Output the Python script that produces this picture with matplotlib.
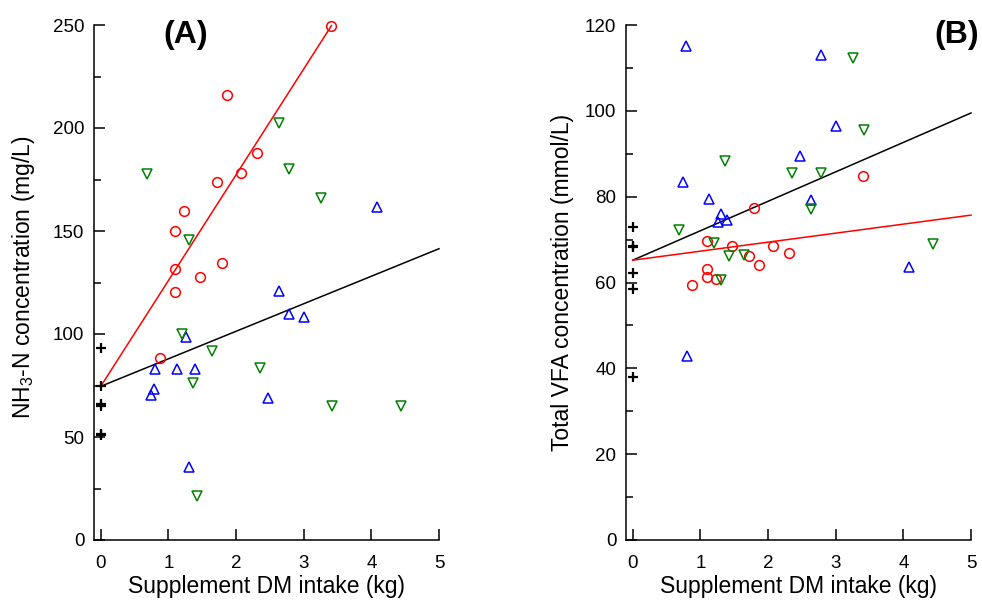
import matplotlib
matplotlib.use("Agg")
import matplotlib.pyplot as plt
from matplotlib.ticker import MultipleLocator

plt.rcParams['font.family'] = ['Liberation Sans', 'DejaVu Sans']
plt.rcParams['mathtext.fontset'] = 'custom'
plt.rcParams['mathtext.rm'] = 'Liberation Sans'

# supplement intake (kg) per group, shared by both panels
red_x = [0.88, 1.09, 1.09, 1.09, 1.23, 1.47, 1.72, 1.79, 1.87, 2.07, 2.31, 3.41]
blue_x = [0.74, 0.79, 0.80, 1.12, 1.26, 1.30, 1.40, 2.47, 2.63, 2.78, 3.00, 4.08]
green_x = [0.68, 1.20, 1.31, 1.37, 1.42, 1.64, 2.36, 2.63, 2.78, 3.26, 3.42, 4.44]

# panel A: NH3-N (mg/L)
red_nh3 = [88.3, 150.0, 131.7, 120.4, 159.7, 127.7, 173.8, 134.5, 215.9, 178.2, 187.9, 249.7]
blue_nh3 = [70.2, 73.5, 83.2, 83.2, 98.5, 35.3, 83.2, 69.1, 120.9, 109.7, 108.4, 161.5]
green_nh3 = [177.5, 100.2, 145.5, 76.4, 21.5, 91.9, 83.5, 202.6, 180.1, 166.2, 65.2, 65.2]
ctrl_nh3 = [93.1, 74.6, 66.0, 65.2, 51.5, 50.8]

# panel B: total VFA (mmol/L)
red_vfa = [59.4, 69.7, 63.1, 61.3, 60.9, 68.6, 66.1, 77.3, 64.1, 68.6, 66.9, 84.8]
blue_vfa = [83.5, 115.1, 42.9, 79.5, 74.2, 75.9, 74.5, 89.4, 79.3, 113.0, 96.5, 63.5]
green_vfa = [72.3, 69.2, 60.6, 88.3, 66.2, 66.5, 85.5, 77.2, 85.5, 112.2, 95.6, 68.9]
ctrl_vfa = [73.0, 68.6, 68.2, 62.1, 58.5, 37.9]

# fitted lines (end points)
fitA_red_x, fitA_red_y = [0, 3.41], [74.6, 249.7]
fitA_all_x, fitA_all_y = [0, 5], [74.6, 141.4]
fitB_red_x, fitB_red_y = [0, 5], [65.2, 75.7]
fitB_all_x, fitB_all_y = [0, 5], [65.2, 99.5]

W, H = 982, 607
fig = plt.figure(figsize=(W / 100, H / 100), dpi=100)
axA = fig.add_axes([94 / W, 67 / H, 345 / W, 515 / H])
axB = fig.add_axes([626 / W, 67 / H, 345 / W, 515 / H])

mk = dict(linestyle='none', markerfacecolor='none', markersize=7,
          markeredgewidth=1.1, clip_on=False)


def draw(ax, yr, yb, yg, yc, fits):
    for fx, fy, c in fits:
        ax.plot(fx, fy, color=c, lw=1.1, zorder=2, clip_on=False)
    ax.plot(red_x, yr, marker='o', color='red', **mk, zorder=3)
    ax.plot(blue_x, yb, marker='^', color='blue', **mk, zorder=3)
    ax.plot(green_x, yg, marker='v', color='green', **mk, zorder=3)
    ax.plot([0] * len(yc), yc, marker='+', color='black', linestyle='none',
            markersize=7, markeredgewidth=1.6, zorder=3, clip_on=False)
    ax.set_xlim(-0.1, 5)
    ax.spines['top'].set_visible(False)
    ax.spines['right'].set_visible(False)
    ax.spines['left'].set_linewidth(1.1)
    ax.spines['bottom'].set_linewidth(1.1)
    ax.xaxis.set_major_locator(MultipleLocator(1))
    ax.tick_params(axis='both', which='major', direction='in', length=8, width=1.1,
                   labelsize=13.5, pad=7)
    ax.tick_params(axis='y', which='minor', direction='in', length=5, width=1.1)
    ax.tick_params(axis='x', which='major', pad=11)
    ax.set_xlabel("Supplement DM intake (kg)", fontsize=16.5, labelpad=2)


draw(axA, red_nh3, blue_nh3, green_nh3, ctrl_nh3,
     [(fitA_all_x, fitA_all_y, 'black'), (fitA_red_x, fitA_red_y, 'red')])
axA.set_ylim(0, 250)
axA.yaxis.set_major_locator(MultipleLocator(50))
axA.yaxis.set_minor_locator(MultipleLocator(25))
axA.set_ylabel("NH$_3$-N concentration (mg/L)", fontsize=16.5)
axA.yaxis.set_label_coords(-0.165, 0.51)
axA.text(0.265, 0.981, "(A)", transform=axA.transAxes, fontsize=23,
         fontweight='bold', ha='center', va='center')

draw(axB, red_vfa, blue_vfa, green_vfa, ctrl_vfa,
     [(fitB_all_x, fitB_all_y, 'black'), (fitB_red_x, fitB_red_y, 'red')])
axB.set_ylim(0, 120)
axB.yaxis.set_major_locator(MultipleLocator(20))
axB.yaxis.set_minor_locator(MultipleLocator(10))
axB.set_ylabel("Total VFA concentration (mmol/L)", fontsize=16.5)
axB.yaxis.set_label_coords(-0.152, 0.5)
axB.text(0.958, 0.981, "(B)", transform=axB.transAxes, fontsize=23,
         fontweight='bold', ha='center', va='center')

fig.savefig("out.png", dpi=100)
